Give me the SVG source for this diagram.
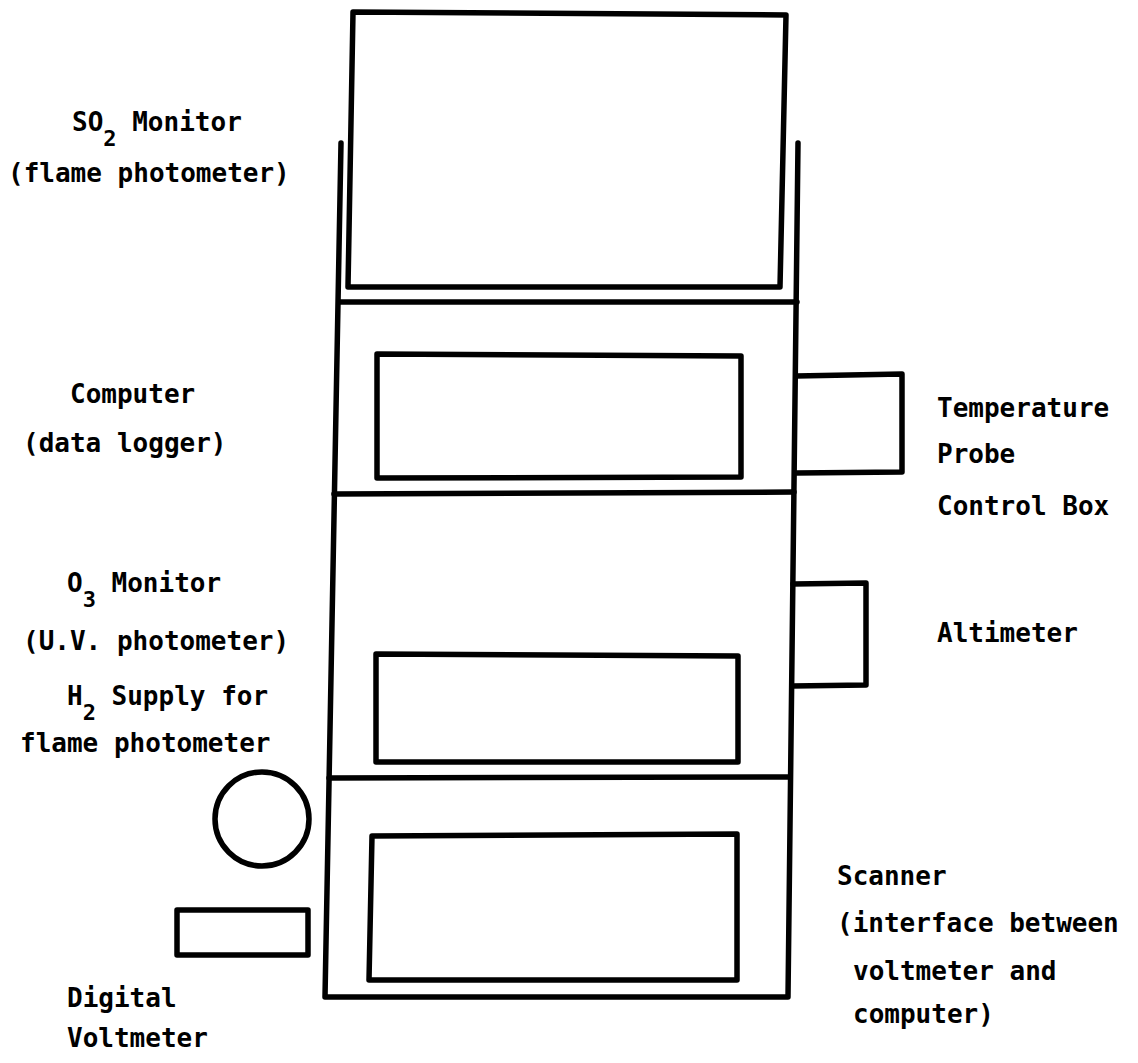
<svg xmlns="http://www.w3.org/2000/svg" width="1138" height="1063" viewBox="0 0 1138 1063">
<style>
.s{fill:none;stroke:#000;stroke-width:5.5;stroke-linejoin:round;stroke-linecap:round}
.t{font-family:"DejaVu Sans Mono","Liberation Mono",monospace;font-weight:bold;font-size:26px;fill:#000}
.sub{font-size:22px}
</style>
<rect width="1138" height="1063" fill="#fff"/>
<g id="rack">
<path class="s" d="M341,143 L325,997 L788,997 L798,143"/>
<path class="s" d="M340,302 L797,302"/>
<path class="s" d="M334,494 L794,492"/>
<path class="s" d="M329,778 L790,777"/>
</g>
<g id="so2-monitor">
<path class="s" d="M353,12 L786,15 L780,287 L348,287 Z"/>
<text class="t" x="72" y="131">SO<tspan class="sub" dy="15">2</tspan><tspan dy="-15"> Monitor</tspan></text>
<text class="t" x="8" y="182">(flame photometer)</text>
</g>
<g id="computer">
<path class="s" d="M377,354 L741,356 L741,477 L377,478 Z"/>
<text class="t" x="70" y="403">Computer</text>
<text class="t" x="23" y="452">(data logger)</text>
</g>
<g id="temperature-probe">
<path class="s" d="M796,376 L902,374 L902,472 L796,473"/>
<text class="t" x="937" y="417">Temperature</text>
<text class="t" x="937" y="463">Probe</text>
<text class="t" x="937" y="515">Control Box</text>
</g>
<g id="o3-monitor">
<path class="s" d="M376,654 L738,656 L738,762 L376,762 Z"/>
<text class="t" x="67" y="592">O<tspan class="sub" dy="15">3</tspan><tspan dy="-15"> Monitor</tspan></text>
<text class="t" x="23" y="650">(U.V. photometer)</text>
</g>
<g id="altimeter">
<path class="s" d="M793,584 L866,583 L866,685 L792,686"/>
<text class="t" x="937" y="642">Altimeter</text>
</g>
<g id="h2-supply">
<circle class="s" cx="262" cy="819" r="47"/>
<text class="t" x="67" y="705">H<tspan class="sub" dy="15">2</tspan><tspan dy="-15"> Supply for</tspan></text>
<text class="t" x="20" y="752">flame photometer</text>
</g>
<g id="scanner">
<path class="s" d="M372,836 L737,834 L737,980 L369,980 Z"/>
<text class="t" x="837" y="885">Scanner</text>
<text class="t" x="837" y="932">(interface between</text>
<text class="t" x="853" y="980">voltmeter and</text>
<text class="t" x="853" y="1023">computer)</text>
</g>
<g id="digital-voltmeter">
<rect class="s" x="177" y="910" width="131" height="45"/>
<text class="t" x="67" y="1007">Digital</text>
<text class="t" x="67" y="1047">Voltmeter</text>
</g>
<g id="connectors"></g>
</svg>
